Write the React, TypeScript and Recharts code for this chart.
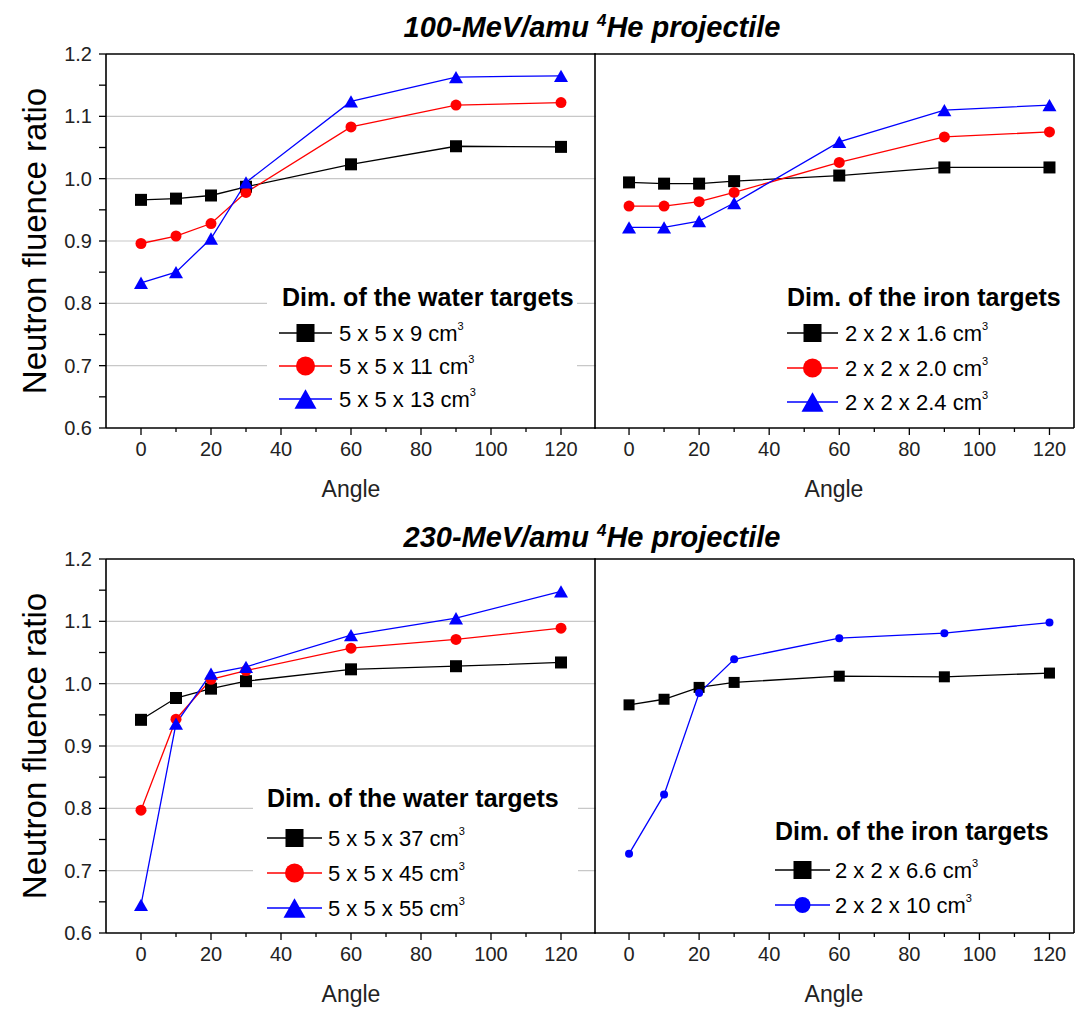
import React from "react";
import { LineChart, Line, XAxis, YAxis, CartesianGrid, Legend } from "recharts";

const FONT = "'Liberation Sans', Arial, Helvetica, sans-serif";

const ANGLES = [0, 10, 20, 30, 60, 90, 120];
const X_TICKS = [0, 10, 20, 30, 40, 50, 60, 70, 80, 90, 100, 110, 120];
const Y_TICKS = [0.6, 0.65, 0.7, 0.75, 0.8, 0.85, 0.9, 0.95, 1.0, 1.05, 1.1, 1.15, 1.2];
const Y_GRID = [0.7, 0.8, 0.9, 1.0, 1.1];

// 100-MeV/amu, water targets
const W100_9 = [0.966, 0.968, 0.973, 0.987, 1.023, 1.052, 1.051];
const W100_11 = [0.896, 0.908, 0.928, 0.978, 1.083, 1.118, 1.122];
const W100_13 = [0.833, 0.85, 0.904, 0.994, 1.124, 1.163, 1.165];
// 100-MeV/amu, iron targets
const I100_16 = [0.994, 0.992, 0.992, 0.996, 1.005, 1.018, 1.018];
const I100_20 = [0.956, 0.956, 0.963, 0.978, 1.026, 1.067, 1.075];
const I100_24 = [0.922, 0.922, 0.932, 0.961, 1.059, 1.11, 1.118];
// 230-MeV/amu, water targets
const W230_37 = [0.942, 0.977, 0.992, 1.004, 1.023, 1.028, 1.034];
const W230_45 = [0.797, 0.943, 1.007, 1.021, 1.057, 1.071, 1.089];
const W230_55 = [0.645, 0.936, 1.016, 1.027, 1.078, 1.105, 1.148];
// 230-MeV/amu, iron targets
const I230_66 = [0.966, 0.975, 0.994, 1.002, 1.012, 1.011, 1.017];
const I230_10 = [0.727, 0.822, 0.985, 1.039, 1.073, 1.081, 1.098];

type Shape = "square" | "circle" | "triangle";
type Series = { key: string; label: string; values: number[]; color: string; shape: Shape; size: number; legendSize: number };

const BLACK = "#000000";
const RED = "#ff0000";
const BLUE = "#0000ff";

function Marker({ cx, cy, shape, size, color }: { cx: number; cy: number; shape: Shape; size: number; color: string }) {
  if (shape === "square") return <rect x={cx - size / 2} y={cy - size / 2} width={size} height={size} fill={color} />;
  if (shape === "circle") return <circle cx={cx} cy={cy} r={size / 2} fill={color} />;
  const h = size * 0.88;
  return (
    <polygon
      points={`${cx},${cy - h / 2} ${cx - size / 2},${cy + h / 2} ${cx + size / 2},${cy + h / 2}`}
      fill={color}
    />
  );
}

function XTick(props: any) {
  const { x, y, payload } = props;
  const v = payload.value;
  const major = v % 20 === 0;
  const axisY = y - 15;
  return (
    <g>
      <line x1={x} x2={x} y1={axisY} y2={axisY + (major ? 7 : 4)} stroke="#000" strokeWidth={1.3} />
      {major && (
        <text x={x} y={axisY + 28} textAnchor="middle" fontSize={20} fill="#222" fontFamily={FONT}>
          {v}
        </text>
      )}
    </g>
  );
}

type LegendLayout = { x: number; y: number; w: number; h: number; titleX: number; titleY: number; rows: number[]; line: [number, number]; textX: number };

function LegendBox({ title, series, lay }: { title: string; series: Series[]; lay: LegendLayout }) {
  const mid = (lay.line[0] + lay.line[1]) / 2;
  return (
    <svg width={lay.w} height={lay.h} style={{ display: "block", background: "#fff" }}>
      <text x={lay.titleX} y={lay.titleY} fontSize={25} fontWeight="bold" fontFamily={FONT} fill="#000">
        {title}
      </text>
      {series.map((s, i) => (
        <g key={s.key}>
          <line x1={lay.line[0]} x2={lay.line[1]} y1={lay.rows[i]} y2={lay.rows[i]} stroke={s.color} strokeWidth={1.3} />
          <Marker cx={mid} cy={lay.rows[i]} shape={s.shape} size={s.legendSize} color={s.color} />
          <text x={lay.textX} y={lay.rows[i] + 8} fontSize={22} fontFamily={FONT} fill="#000">
            {s.label} cm
            <tspan dy={-11} fontSize={11}>3</tspan>
          </text>
        </g>
      ))}
    </svg>
  );
}

function Panel(props: {
  left: number;
  top: number;
  width: number;
  height: number;
  xMax: number;
  yLabels: boolean;
  series: Series[];
  legendTitle: string;
  lay: LegendLayout;
}) {
  const { left, top, width, height, xMax, yLabels, series, legendTitle, lay } = props;
  const data = ANGLES.map((a, i) => {
    const row: any = { angle: a };
    series.forEach((s) => (row[s.key] = s.values[i]));
    return row;
  });
  const axisLine = { stroke: "#000", strokeWidth: 1.6 };
  const tickLine = { stroke: "#000", strokeWidth: 1.3 };
  const bottom = height - 55 - 373 - 70;
  return (
    <div style={{ position: "absolute", left, top }}>
      <LineChart
        width={width}
        height={height}
        data={data}
        margin={{ top: 54, right: yLabels ? 0 : 4, left: 0, bottom }}
      >
        <CartesianGrid vertical={false} horizontalValues={Y_GRID} stroke="#c8c8c8" strokeWidth={1.2} />
        <XAxis
          dataKey="angle"
          type="number"
          domain={[-10, xMax]}
          allowDataOverflow
          ticks={X_TICKS}
          interval={0}
          height={70}
          tickSize={7}
          tickMargin={8}
          tickLine={false}
          tick={<XTick />}
          axisLine={axisLine}
          label={(p: any) => {
            const vb = p.viewBox;
            return (
              <text x={vb.x + vb.width / 2} y={vb.y + 69} textAnchor="middle" fontSize={23} fill="#222" fontFamily={FONT}>
                Angle
              </text>
            );
          }}
        />
        <XAxis
          xAxisId="top"
          orientation="top"
          type="number"
          domain={[-10, xMax]}
          allowDataOverflow
          ticks={X_TICKS}
          interval={0}
          height={1}
          mirror
          tick={false}
          tickSize={5}
          tickLine={tickLine}
          axisLine={axisLine}
        />
        {yLabels ? (
          <YAxis
            type="number"
            domain={[0.6, 1.2]}
            allowDataOverflow
            ticks={Y_TICKS}
            interval={0}
            width={106}
            tickSize={7}
            tickMargin={7}
            tickLine={tickLine}
            axisLine={axisLine}
            tick={{ fontSize: 20, fill: "#222", fontFamily: FONT }}
            tickFormatter={(v: number) => (Math.round(v * 100) % 10 === 0 ? v.toFixed(1) : "")}
            label={(p: any) => {
              const vb = p.viewBox;
              const cy = vb.y + vb.height / 2;
              return (
                <text
                  x={46}
                  y={cy}
                  transform={`rotate(-90, 46, ${cy})`}
                  textAnchor="middle"
                  fontSize={33}
                  fill="#000"
                  fontFamily={FONT}
                >
                  Neutron fluence ratio
                </text>
              );
            }}
          />
        ) : (
          <YAxis
            type="number"
            domain={[0.6, 1.2]}
            allowDataOverflow
            ticks={Y_TICKS}
            interval={0}
            width={1}
            mirror
            tick={false}
            tickSize={6}
            tickLine={tickLine}
            axisLine={axisLine}
          />
        )}
        <YAxis
          yAxisId="right"
          orientation="right"
          type="number"
          domain={[0.6, 1.2]}
          allowDataOverflow
          ticks={Y_TICKS}
          interval={0}
          width={1}
          mirror
          tick={false}
          tickSize={6}
          tickLine={tickLine}
          axisLine={axisLine}
        />
        {series.map((s) => (
          <Line
            key={s.key}
            dataKey={s.key}
            name={s.label}
            type="linear"
            stroke={s.color}
            strokeWidth={1.3}
            isAnimationActive={false}
            dot={(p: any) => <Marker key={`${s.key}-${p.index}`} cx={p.cx} cy={p.cy} shape={s.shape} size={s.size} color={s.color} />}
            activeDot={false}
          />
        ))}
        <Legend
          layout="vertical"
          align="center"
          verticalAlign="middle"
          width={lay.w}
          height={lay.h}
          wrapperStyle={{ left: lay.x, top: lay.y, width: lay.w, height: lay.h }}
          content={() => <LegendBox title={legendTitle} series={series} lay={lay} />}
        />
      </LineChart>
    </div>
  );
}

const S_W100: Series[] = [
  { key: "a", label: "5 x 5 x 9", values: W100_9, color: BLACK, shape: "square", size: 12, legendSize: 18 },
  { key: "b", label: "5 x 5 x 11", values: W100_11, color: RED, shape: "circle", size: 11, legendSize: 19 },
  { key: "c", label: "5 x 5 x 13", values: W100_13, color: BLUE, shape: "triangle", size: 14, legendSize: 22 },
];
const S_I100: Series[] = [
  { key: "a", label: "2 x 2 x 1.6", values: I100_16, color: BLACK, shape: "square", size: 12, legendSize: 18 },
  { key: "b", label: "2 x 2 x 2.0", values: I100_20, color: RED, shape: "circle", size: 11, legendSize: 19 },
  { key: "c", label: "2 x 2 x 2.4", values: I100_24, color: BLUE, shape: "triangle", size: 14, legendSize: 22 },
];
const S_W230: Series[] = [
  { key: "a", label: "5 x 5 x 37", values: W230_37, color: BLACK, shape: "square", size: 12, legendSize: 18 },
  { key: "b", label: "5 x 5 x 45", values: W230_45, color: RED, shape: "circle", size: 11, legendSize: 19 },
  { key: "c", label: "5 x 5 x 55", values: W230_55, color: BLUE, shape: "triangle", size: 14, legendSize: 22 },
];
const S_I230: Series[] = [
  { key: "a", label: "2 x 2 x 6.6", values: I230_66, color: BLACK, shape: "square", size: 11, legendSize: 18 },
  { key: "b", label: "2 x 2 x 10", values: I230_10, color: BLUE, shape: "circle", size: 8, legendSize: 16 },
];

function Title({ y, energy }: { y: number; energy: string }) {
  return (
    <text x={592} y={y} textAnchor="middle" fontSize={29} fontWeight="bold" fontStyle="italic" fontFamily={FONT} fill="#000">
      {energy + " "}
      <tspan dy={-11} fontSize={17}>4</tspan>
      <tspan dy={11}>He projectile</tspan>
    </text>
  );
}

export default function App() {
  return (
    <div style={{ position: "absolute", left: 0, top: 0, width: 1078, height: 1009, overflow: "hidden", background: "#fff" }}>
      <svg width={1078} height={1009} style={{ position: "absolute", left: 0, top: 0 }}>
        <Title y={37} energy="100-MeV/amu" />
        <Title y={547} energy="230-MeV/amu" />
      </svg>
      <Panel
        left={0}
        top={0}
        width={596}
        height={505}
        xMax={130}
        yLabels
        series={S_W100}
        legendTitle="Dim. of the water targets"
        lay={{ x: 267, y: 278, w: 310, h: 148, titleX: 15, titleY: 28, rows: [55, 88, 121], line: [12, 65], textX: 72 }}
      />
      <Panel
        left={594}
        top={0}
        width={484}
        height={505}
        xMax={127}
        yLabels={false}
        series={S_I100}
        legendTitle="Dim. of the iron targets"
        lay={{ x: 179, y: 278, w: 289, h: 148, titleX: 14, titleY: 28, rows: [55, 90, 124], line: [14, 65], textX: 72 }}
      />
      <Panel
        left={0}
        top={505}
        width={596}
        height={504}
        xMax={130}
        yLabels
        series={S_W230}
        legendTitle="Dim. of the water targets"
        lay={{ x: 253, y: 274, w: 325, h: 152, titleX: 14, titleY: 28, rows: [59, 94, 129], line: [14, 69], textX: 75 }}
      />
      <Panel
        left={594}
        top={505}
        width={484}
        height={504}
        xMax={127}
        yLabels={false}
        series={S_I230}
        legendTitle="Dim. of the iron targets"
        lay={{ x: 173, y: 305, w: 298, h: 121, titleX: 8, titleY: 30, rows: [60, 95], line: [8, 63], textX: 68 }}
      />
    </div>
  );
}
